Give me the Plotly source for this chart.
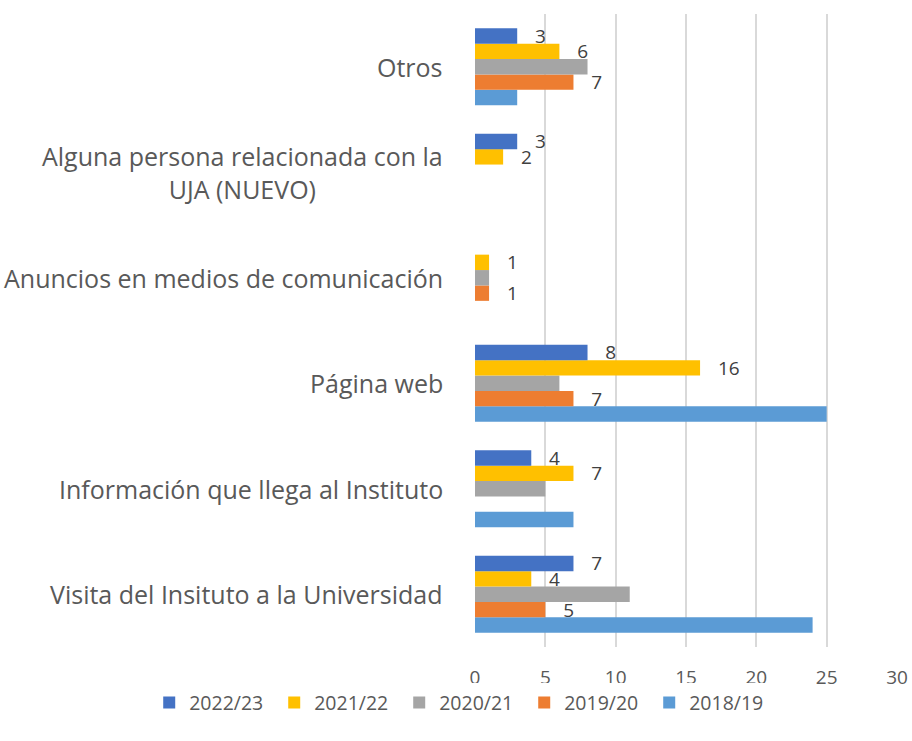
import plotly.graph_objects as go

categories = ["Visita del Insituto a la Universidad", "Información que llega al Instituto",
              "Página web", "Anuncios en medios de comunicación",
              "Alguna persona relacionada con la<br>UJA (NUEVO)", "Otros"]
series_names = ["2018/19", "2019/20", "2020/21", "2021/22", "2022/23"]
v_2018_19 = [24, 7, 25, None, None, 3]
v_2019_20 = [5, None, 7, 1, None, 7]
v_2020_21 = [11, 5, 6, 1, None, 8]
v_2021_22 = [4, 7, 16, 1, 2, 6]
v_2022_23 = [7, 4, 8, None, 3, 3]
values = [v_2018_19, v_2019_20, v_2020_21, v_2021_22, v_2022_23]
colors = ["#5B9BD5", "#ED7D31", "#A5A5A5", "#FFC000", "#4472C4"]
show_labels = [False, True, False, True, True]
x_ticks = [0, 5, 10, 15, 20, 25, 30]

fig = go.Figure()
for name, vals, col, lab in zip(series_names, values, colors, show_labels):
    fig.add_trace(go.Bar(
        y=categories, x=vals, name=name, orientation="h",
        marker=dict(color=col, line=dict(width=0)),
        text=[("   " + str(v)) if (lab and v is not None) else "" for v in vals],
        textposition="outside", constraintext="none", cliponaxis=False,
        textfont=dict(size=19, color="#404040", family="Open Sans"),
        hoverinfo="x+name",
    ))

for c in categories:
    fig.add_annotation(x=0, xref="paper", y=c, yref="y", text=c, showarrow=False,
                       xanchor="right", align="center", xshift=-30,
                       font=dict(size=25, color="#595959", family="Open Sans"))

fig.update_layout(
    width=912, height=741, barmode="group", bargap=0.27, bargroupgap=0,
    paper_bgcolor="white", plot_bgcolor="white",
    margin=dict(l=475, r=15, t=14, b=94, autoexpand=False),
    xaxis=dict(range=[0, 30], tickvals=x_ticks, showgrid=True, gridcolor="#D9D9D9",
               gridwidth=1.5, zeroline=False, showline=False,
               tickfont=dict(size=19, color="#595959", family="Open Sans"), ticks="",
               ticklabelstandoff=17),
    yaxis=dict(showticklabels=False, showgrid=False, categoryorder="array",
               categoryarray=categories),
    legend=dict(orientation="h", traceorder="reversed", xref="paper", x=-0.772,
                xanchor="left", yref="paper", y=-0.088, yanchor="middle",
                font=dict(size=19.5, color="#595959", family="Open Sans"),
                entrywidth=80, itemwidth=30),
    showlegend=True,
)
fig.write_html("out.html", config={"displayModeBar": False},
               post_script="document.body.style.margin='0';")
